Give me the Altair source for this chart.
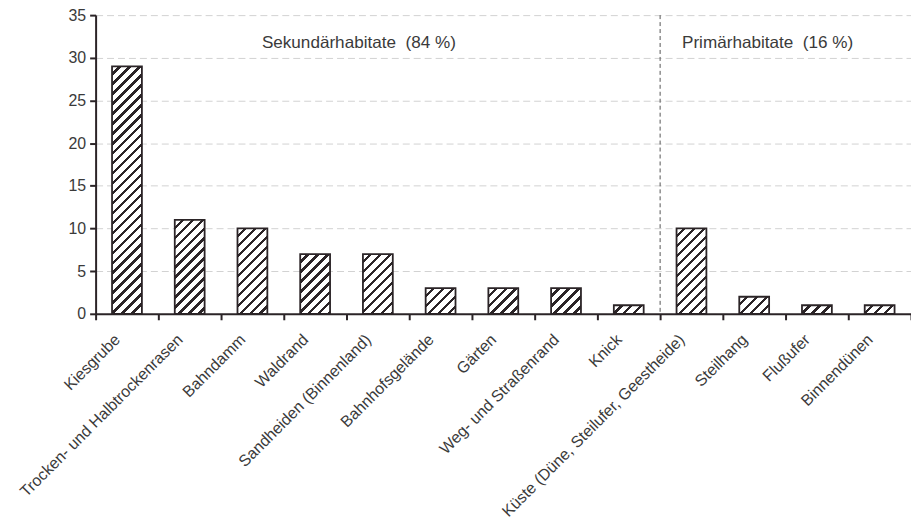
import altair as alt

categories = [
    "Kiesgrube",
    "Trocken- und Halbtrockenrasen",
    "Bahndamm",
    "Waldrand",
    "Sandheiden (Binnenland)",
    "Bahnhofsgelände",
    "Gärten",
    "Weg- und Straßenrand",
    "Knick",
    "Küste (Düne, Steilufer, Geestheide)",
    "Steilhang",
    "Flußufer",
    "Binnendünen",
]
values = [29, 11, 10, 7, 7, 3, 3, 3, 1, 10, 2, 1, 1]
y_ticks = [0, 5, 10, 15, 20, 25, 30, 35]
group_labels = ["Sekundärhabitate\u00a0 (84 %)", "Primärhabitate\u00a0 (16 %)"]
group_anchor = ["Bahndamm", "Küste (Düne, Steilufer, Geestheide)"]
divider_at = ["Küste (Düne, Steilufer, Geestheide)"]
label_y = 31.7

# --- layout / style ---
W, H = 819, 300
Y_MAX = 35
BAR_FRAC = 0.476
INK = "#2b2427"
TXT = "#3a3a3a"
FONT = "Liberation Sans"


def hatch(v):
    """Diagonal hatch fill as a sharp-stop linear gradient sized to the bar."""
    w = W / len(categories) * BAR_FRAC
    h = max(v * H / Y_MAX, 1e-6)
    total = w + h
    s = total / (w * w + h * h)
    period = 10.0
    dark = 3.5
    stops = []
    pos = 0.0
    while pos < total:
        a = pos / total
        b = min(pos + period - dark, total) / total
        c = min(pos + period, total) / total
        stops += [
            {"offset": a, "color": "#ffffff"},
            {"offset": b, "color": "#ffffff"},
            {"offset": b, "color": INK},
            {"offset": c, "color": INK},
        ]
        pos += period
    return {"gradient": "linear", "x1": 0, "y1": 0, "x2": s * w, "y2": s * h, "stops": stops}


rows = [{"cat": c, "val": v, "grad": hatch(v)} for c, v in zip(categories, values)]

x_scale = alt.Scale(domain=categories, paddingInner=0, paddingOuter=0)
y_scale = alt.Scale(domain=[0, Y_MAX], nice=False)

x_axis = alt.Axis(
    title=None,
    labelAngle=-45,
    labelAlign="right",
    labelBaseline="middle",
    labelFontSize=16,
    labelFont=FONT,
    labelColor=TXT,
    labelPadding=17,
    labelOffset=-10,
    labelLimit=500,
    labelOverlap=False,
    tickBand="extent",
    tickSize=6,
    tickColor=INK,
    tickWidth=2,
    domainColor=INK,
    domainWidth=2,
    grid=False,
)
y_axis = alt.Axis(
    title=None,
    values=y_ticks,
    labelFontSize=16,
    labelFont=FONT,
    labelColor=TXT,
    labelPadding=4,
    tickSize=6,
    tickColor=INK,
    tickWidth=2,
    domainColor=INK,
    domainWidth=2,
    gridColor="#d2d2d2",
    gridDash=[7, 4],
    gridWidth=1,
)

bars = alt.Chart(alt.Data(values=rows)).mark_bar(
    width=alt.RelativeBandSize(BAR_FRAC), stroke=INK, strokeWidth=1.8
).encode(
    x=alt.X("cat:N", sort=categories, scale=x_scale, axis=x_axis),
    y=alt.Y("val:Q", stack=None, scale=y_scale, axis=y_axis),
    fill=alt.Fill("grad:N", scale=None),
)

rule = alt.Chart(alt.Data(values=[{"cat": c} for c in divider_at])).mark_rule(
    color="#555555", strokeDash=[4, 3], strokeWidth=1
).encode(x=alt.X("cat:N", sort=categories, scale=x_scale, bandPosition=0))


def annotation(label, anchor, dx):
    return alt.Chart(alt.Data(values=[{"cat": anchor, "label": label}])).mark_text(
        align="left", baseline="middle", fontSize=17.2, font=FONT, color=TXT, dx=dx
    ).encode(
        x=alt.X("cat:N", sort=categories, scale=x_scale),
        y=alt.datum(label_y),
        text="label:N",
    )


ann1 = annotation(group_labels[0], group_anchor[0], 9.5)
ann2 = annotation(group_labels[1], group_anchor[1], -9.5)

chart = (
    alt.layer(bars, rule, ann1, ann2)
    .properties(
        width=W,
        height=H,
        autosize=alt.AutoSizeParams(type="none"),
        padding={"left": 88, "top": 6, "right": 0, "bottom": 214},
        background="white",
    )
    .configure_view(stroke=None)
)

chart.save("out.html", embed_options={"renderer": "svg", "actions": False})
